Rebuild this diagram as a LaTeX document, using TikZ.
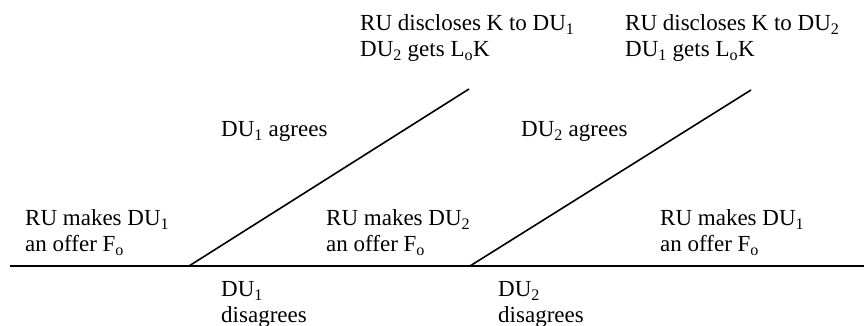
\documentclass[tikz,border=0pt]{standalone}
\usepackage{fontspec}
\setmainfont{Liberation Serif}
\begin{document}
\begin{tikzpicture}[x=1pt,y=1pt,
  lbl/.style={anchor=base west,inner sep=0pt,align=left,font=\fontsize{23}{26.5}\selectfont},
  branch/.style={line width=1.6pt,line cap=butt}]
\useasboundingbox (0,0) rectangle (864,326);
% skeleton
\coordinate (start) at (10,60);
\coordinate (j1) at (189,60);
\coordinate (j2) at (470,60);
\coordinate (stop) at (864,60);
\coordinate (e1) at (469,237);
\coordinate (e2) at (751,236);
\draw[branch] (start) -- (j1) -- (j2) -- (stop);
\draw[branch] (j1) -- (e1);
\draw[branch] (j2) -- (e2);
% labels (base = baseline of last line)
\node[lbl] (offer1) at (25,74) {RU makes DU\textsubscript{1}\\an offer F\textsubscript{o}};
\node[lbl] (offer2) at (326,74) {RU makes DU\textsubscript{2}\\an offer F\textsubscript{o}};
\node[lbl] (offer3) at (660,74) {RU makes DU\textsubscript{1}\\an offer F\textsubscript{o}};
\node[lbl] (agree1) at (221,189) {DU\textsubscript{1} agrees};
\node[lbl] (agree2) at (521,189) {DU\textsubscript{2} agrees};
\node[lbl] (dis1) at (221,3) {DU\textsubscript{1}\\disagrees};
\node[lbl] (dis2) at (498,3) {DU\textsubscript{2}\\disagrees};
\node[lbl] (disc1) at (360,269) {RU discloses K to DU\textsubscript{1}\\DU\textsubscript{2} gets L\textsubscript{o}K};
\node[lbl] (disc2) at (625,269) {RU discloses K to DU\textsubscript{2}\\DU\textsubscript{1} gets L\textsubscript{o}K};
\end{tikzpicture}
\end{document}
